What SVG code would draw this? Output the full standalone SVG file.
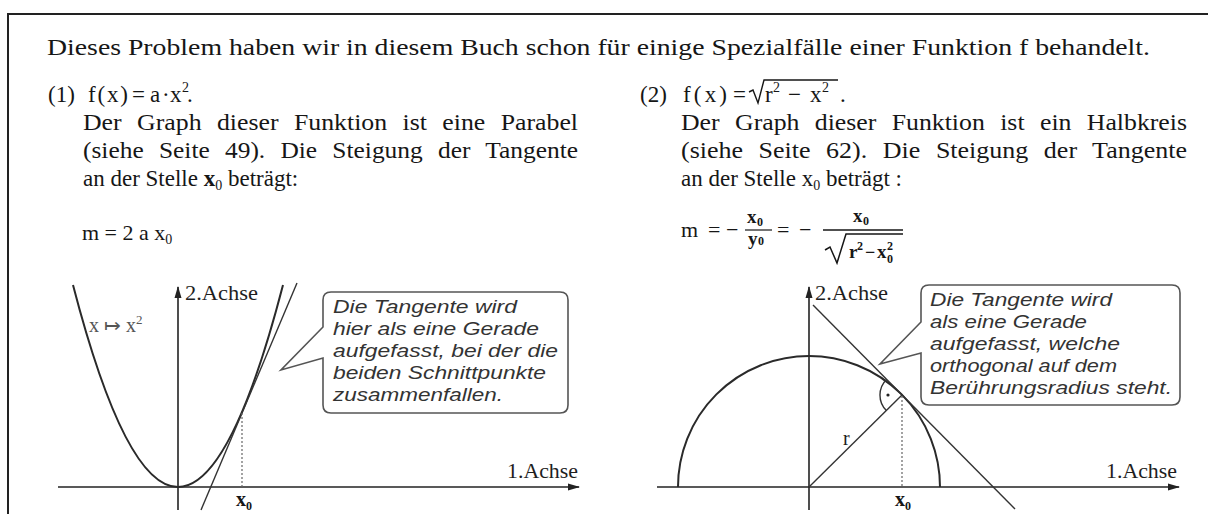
<svg xmlns="http://www.w3.org/2000/svg" width="1208" height="514" viewBox="0 0 1208 514">
<defs>
<style>
.t{font-family:"Liberation Serif","Times New Roman",serif;font-size:23px;fill:#161616}
.j{word-spacing:8px}
.m{font-family:"Liberation Serif","Times New Roman",serif;fill:#161616}
.lab{font-family:"Liberation Serif","Times New Roman",serif;font-size:20px;fill:#1e1e1e}
.c{font-family:"Liberation Sans",Arial,sans-serif;font-style:italic;font-size:19px;fill:#333}
.ax{stroke:#222;stroke-width:1.6;fill:none}
.cur{stroke:#2a2a2a;stroke-width:2;fill:none}
.thin{stroke:#333;stroke-width:1.4;fill:none}
.dot{stroke:#666;stroke-width:1.2;stroke-dasharray:2 2;fill:none}
.box{stroke:#555;stroke-width:1.6;fill:#fff}
.ml{stroke:#161616;fill:none}
</style>
<marker id="ah" viewBox="0 0 12 10" refX="11" refY="5" markerWidth="12" markerHeight="10" markerUnits="userSpaceOnUse" orient="auto">
<path d="M0,1.5 L12,5 L0,8.5 Z" fill="#222"/>
</marker>
</defs>
<rect width="1208" height="514" fill="#fff"/>
<path d="M8,514 V14 H1208" stroke="#222" stroke-width="2" fill="none"/>

<g id="text">
<text class="t" font-size="24" x="47" y="55" textLength="1103" lengthAdjust="spacingAndGlyphs">Dieses Problem haben wir in diesem Buch schon für einige Spezialfälle einer Funktion f behandelt.</text>

<g id="item1">
<text class="t" x="48" y="102">(1)</text>
<text class="t" x="88" y="102" textLength="40" lengthAdjust="spacing">f(x)</text>
<text class="t" x="132" y="102">=</text>
<text class="t" x="150" y="102">a</text>
<text class="t" x="162" y="102">·</text>
<text class="t" x="170" y="102">x</text>
<text class="m" font-size="14" x="182" y="92">2</text>
<text class="t" x="187" y="102">.</text>
<text class="t j" x="83" y="130" textLength="495" lengthAdjust="spacingAndGlyphs">Der Graph dieser Funktion ist eine Parabel</text>
<text class="t j" x="83" y="158" textLength="495" lengthAdjust="spacingAndGlyphs">(siehe Seite 49). Die Steigung der Tangente</text>
<text class="t" x="83" y="186">an der Stelle <tspan font-weight="bold">x</tspan><tspan font-size="14" dy="4">0</tspan><tspan dy="-4"> beträgt:</tspan></text>
<text class="m" font-size="22" x="82" y="240">m = 2 a x<tspan font-size="14" dy="4">0</tspan></text>
</g>

<g id="item2">
<text class="t" x="640" y="102">(2)</text>
<text class="t" x="683" y="102" textLength="44" lengthAdjust="spacing">f(x)</text>
<text class="t" x="733" y="102">=</text>
<path class="ml" stroke-width="1.4" d="M749,92 L753,90 L758,103 L764,80 H838"/>
<text class="t" x="765" y="102">r</text>
<text class="m" font-size="14" x="773" y="92">2</text>
<text class="t" x="788" y="102">−</text>
<text class="t" x="810" y="102">x</text>
<text class="m" font-size="14" x="822" y="92">2</text>
<text class="t" x="840" y="102">.</text>
<text class="t j" x="681" y="130" textLength="506" lengthAdjust="spacingAndGlyphs">Der Graph dieser Funktion ist ein Halbkreis</text>
<text class="t j" x="681" y="158" textLength="506" lengthAdjust="spacingAndGlyphs">(siehe Seite 62). Die Steigung der Tangente</text>
<text class="t" x="681" y="186">an der Stelle x<tspan font-size="14" dy="4">0</tspan><tspan dy="-4"> beträgt :</tspan></text>
</g>

<g id="formula2">
<text class="m" font-size="22" x="681" y="237">m</text>
<text class="m" font-size="22" x="708" y="237">=</text>
<text class="m" font-size="22" x="726" y="237">−</text>
<text class="m" font-size="19" x="747" y="223" font-weight="bold">x</text>
<text class="m" font-size="12" x="757" y="226" font-weight="bold">0</text>
<line class="ml" stroke-width="1.2" x1="745" y1="230" x2="772" y2="230"/>
<text class="m" font-size="19" x="748" y="245" font-weight="bold">y</text>
<text class="m" font-size="12" x="758" y="245" font-weight="bold">0</text>
<text class="m" font-size="22" x="777" y="237">=</text>
<text class="m" font-size="22" x="799" y="237">−</text>
<text class="m" font-size="19" x="853" y="222" font-weight="bold">x</text>
<text class="m" font-size="12" x="863" y="225" font-weight="bold">0</text>
<line class="ml" stroke-width="1.5" x1="823" y1="230" x2="903" y2="230"/>
<path class="ml" stroke-width="1.5" d="M825,250 L830,247 L837,263 L846,234 H903"/>
<text class="m" font-size="19" x="849" y="258" font-weight="bold">r</text>
<text class="m" font-size="12" x="857" y="250" font-weight="bold">2</text>
<text class="m" font-size="18" x="865" y="258" font-weight="bold">−</text>
<text class="m" font-size="19" x="877" y="258" font-weight="bold">x</text>
<text class="m" font-size="12" x="887" y="250" font-weight="bold">2</text>
<text class="m" font-size="12" x="887" y="263" font-weight="bold">0</text>
</g>
</g>

<g id="graph1">
<line class="ax" x1="58" y1="487" x2="579" y2="487" marker-end="url(#ah)"/>
<line class="ax" x1="178" y1="510" x2="178" y2="287" marker-end="url(#ah)"/>
<text class="lab" x="185" y="300" textLength="73" lengthAdjust="spacingAndGlyphs">2.Achse</text>
<text class="lab" x="507" y="478" textLength="71" lengthAdjust="spacingAndGlyphs">1.Achse</text>
<path class="cur" d="M73,285 Q178,689 283,285"/>
<line class="thin" x1="201" y1="510" x2="297" y2="283"/>
<line class="dot" x1="242" y1="413" x2="242" y2="487"/>
<text class="m" font-size="20" x="236" y="506" font-weight="bold">x</text>
<text class="m" font-size="12" x="246" y="510" font-weight="bold">0</text>
<text class="m" font-size="20" x="89" y="332" style="fill:#555">x ↦ x<tspan font-size="13" dy="-8">2</tspan></text>
</g>

<g id="callout1">
<path class="box" d="M331,292 H560 Q568,292 568,300 V405 Q568,413 560,413 H331 Q323,413 323,405 V358 L281,370 L323,327 V300 Q323,292 331,292 Z"/>
<text class="c" x="333" y="313" textLength="184" lengthAdjust="spacingAndGlyphs">Die Tangente wird</text>
<text class="c" x="333" y="335" textLength="206" lengthAdjust="spacingAndGlyphs">hier als eine Gerade</text>
<text class="c" x="333" y="357" textLength="225" lengthAdjust="spacingAndGlyphs">aufgefasst, bei der die</text>
<text class="c" x="333" y="379" textLength="213" lengthAdjust="spacingAndGlyphs">beiden Schnittpunkte</text>
<text class="c" x="333" y="401" textLength="170" lengthAdjust="spacingAndGlyphs">zusammenfallen.</text>
</g>

<g id="graph2">
<line class="ax" x1="657" y1="487" x2="1179" y2="487" marker-end="url(#ah)"/>
<line class="ax" x1="809" y1="510" x2="809" y2="287" marker-end="url(#ah)"/>
<text class="lab" x="815" y="300" textLength="73" lengthAdjust="spacingAndGlyphs">2.Achse</text>
<text class="lab" x="1106" y="478" textLength="71" lengthAdjust="spacingAndGlyphs">1.Achse</text>
<path class="cur" d="M678,487 A131,131 0 0 1 940,487"/>
<line class="thin" x1="809" y1="487" x2="902" y2="395"/>
<line class="thin" x1="813" y1="305" x2="1015" y2="509"/>
<path class="thin" d="M886.5,379.4 A22,22 0 0 0 886.4,410.6"/>
<circle cx="888" cy="395" r="1.6" fill="#222"/>
<line class="dot" x1="902" y1="396" x2="902" y2="487"/>
<text class="lab" x="843" y="445">r</text>
<text class="m" font-size="20" x="895" y="506" font-weight="bold">x</text>
<text class="m" font-size="12" x="905" y="510" font-weight="bold">0</text>
</g>

<g id="callout2">
<path class="box" d="M929,285 H1172 Q1180,285 1180,293 V397 Q1180,405 1172,405 H929 Q921,405 921,397 V353 L880,364 L921,322 V293 Q921,285 929,285 Z"/>
<text class="c" x="930" y="306" textLength="182" lengthAdjust="spacingAndGlyphs">Die Tangente wird</text>
<text class="c" x="930" y="328" textLength="157" lengthAdjust="spacingAndGlyphs">als eine Gerade</text>
<text class="c" x="930" y="350" textLength="190" lengthAdjust="spacingAndGlyphs">aufgefasst, welche</text>
<text class="c" x="930" y="372" textLength="187" lengthAdjust="spacingAndGlyphs">orthogonal auf dem</text>
<text class="c" x="930" y="394" textLength="242" lengthAdjust="spacingAndGlyphs">Berührungsradius steht.</text>
</g>
</svg>
